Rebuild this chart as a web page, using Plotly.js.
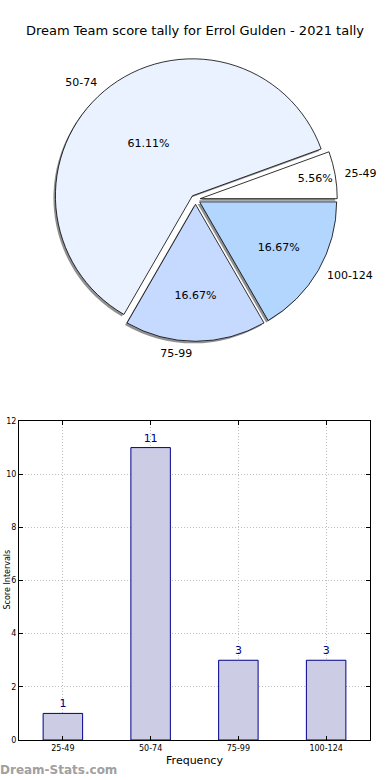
<!DOCTYPE html>
<html>
<head>
<meta charset="utf-8">
<script src="https://cdn.plot.ly/plotly-3.0.1.min.js"></script>
<style>html,body{margin:0;padding:0;background:#fff;}#chart{width:390px;height:780px;}</style>
</head>
<body>
<div id="chart"></div>
<script>
// ---- data ----
var categories = ["25-49", "50-74", "75-99", "100-124"];
var counts = [1, 11, 3, 3];
var pieColors = ["#ffffff", "#eaf1ff", "#c6d9ff", "#b3d6ff"];
var explode = [0.035, 0.035, 0.035, 0.035];
var titleText = "Dream Team score tally for Errol Gulden - 2021 tally";
var xTitle = "Frequency";
var yTitle = "Score Intervals";
var yTicks = [0, 2, 4, 6, 8, 10, 12];

var W = 390, H = 780;
function px(x) { return x / W; }
function py(y) { return 1 - y / H; }

var total = counts.reduce(function(a, b){ return a + b; }, 0);
// matplotlib starts first wedge at 3 o'clock going counterclockwise
var rot = 90 - 360 * counts[0] / total;

// pie geometry (pixels)
var cx = 195.5, cy = 199.5, r = 137;
var half = r * (1 + Math.max.apply(null, explode));
function domainFor(h, dx, dy) {
  return {x: [px(cx - h + dx), px(cx + h + dx)], y: [py(cy + h + dy), py(cy - h + dy)]};
}

var common = {
  type: "pie", labels: categories, values: counts, sort: false,
  direction: "counterclockwise", rotation: rot, hoverinfo: "skip", showlegend: false
};

var shadow = Object.assign({}, common, {
  domain: domainFor(half, -2, 2), pull: explode, textinfo: "none",
  marker: {colors: categories.map(function(){return "rgba(70,70,70,0.6)";}), line: {width: 0}}
});
var mainPie = Object.assign({}, common, {
  domain: domainFor(half, 0, 0), pull: explode,
  texttemplate: "%{percent:.2%}", textposition: "inside",
  insidetextorientation: "horizontal",
  textfont: {family: "DejaVu Sans", size: 11, color: "#000"},
  marker: {colors: pieColors, line: {color: "#000", width: 0.8}}
});
var labelPie = Object.assign({}, common, {
  domain: domainFor(r * 1.08, 0, 0),
  texttemplate: "%{label}", textposition: "outside",
  outsidetextfont: {family: "DejaVu Sans", size: 11, color: "#000"},
  marker: {colors: categories.map(function(){return "rgba(0,0,0,0)";}), line: {width: 0}}
});

var bars = {
  type: "bar", x: categories, y: counts, width: 0.45,
  marker: {color: "#ccccE5", line: {color: "#00008b", width: 1}},
  text: counts.map(String), textposition: "outside", cliponaxis: false,
  textfont: {family: "DejaVu Sans", size: 11, color: "#00008b"},
  hoverinfo: "skip", showlegend: false, xaxis: "x", yaxis: "y"
};

var layout = {
  width: W, height: H, margin: {l: 0, r: 0, t: 0, b: 0},
  paper_bgcolor: "#fff", plot_bgcolor: "#fff",
  font: {family: "DejaVu Sans", color: "#000"},
  showlegend: false,
  title: {text: titleText, font: {family: "DejaVu Sans", size: 13, color: "#000"},
          x: 0.5, xanchor: "center", y: py(30), yanchor: "middle", xref: "paper", yref: "paper"},
  xaxis: {
    domain: [px(19), px(370)], anchor: "y", type: "category", range: [-0.5, 3.5],
    showline: true, linecolor: "#000", linewidth: 1, mirror: "ticks",
    ticks: "inside", ticklen: 4, tickcolor: "#000",
    showgrid: true, gridcolor: "#bdbdbd", griddash: "1px,2px", gridwidth: 1,
    tickfont: {family: "DejaVu Sans", size: 8, color: "#000"},
    title: {text: xTitle, font: {family: "DejaVu Sans", size: 11, color: "#000"}, standoff: 4},
    zeroline: false, fixedrange: true
  },
  yaxis: {
    domain: [py(740), py(421)], anchor: "x", range: [0, 12], tickvals: yTicks,
    showline: true, linecolor: "#000", linewidth: 1, mirror: "ticks",
    ticks: "inside", ticklen: 4, tickcolor: "#000",
    showgrid: true, gridcolor: "#bdbdbd", griddash: "1px,2px", gridwidth: 1,
    tickfont: {family: "DejaVu Sans", size: 8, color: "#000"},
    zeroline: false, fixedrange: true
  },
  annotations: [
    {text: yTitle, textangle: -90, xref: "paper", yref: "paper", x: 0, y: py(580),
     xanchor: "left", yanchor: "middle", xshift: 0, showarrow: false,
     font: {family: "DejaVu Sans", size: 8, color: "#000"}},
    {text: "<b>Dream-Stats.com</b>", xref: "paper", yref: "paper", x: 0, y: py(770),
     xanchor: "left", yanchor: "middle", xshift: -2, showarrow: false,
     font: {family: "DejaVu Sans", size: 12, color: "#a0a0a0"}}
  ]
};

Plotly.newPlot("chart", [shadow, mainPie, labelPie, bars], layout, {displayModeBar: false, staticPlot: true});
</script>
</body>
</html>
